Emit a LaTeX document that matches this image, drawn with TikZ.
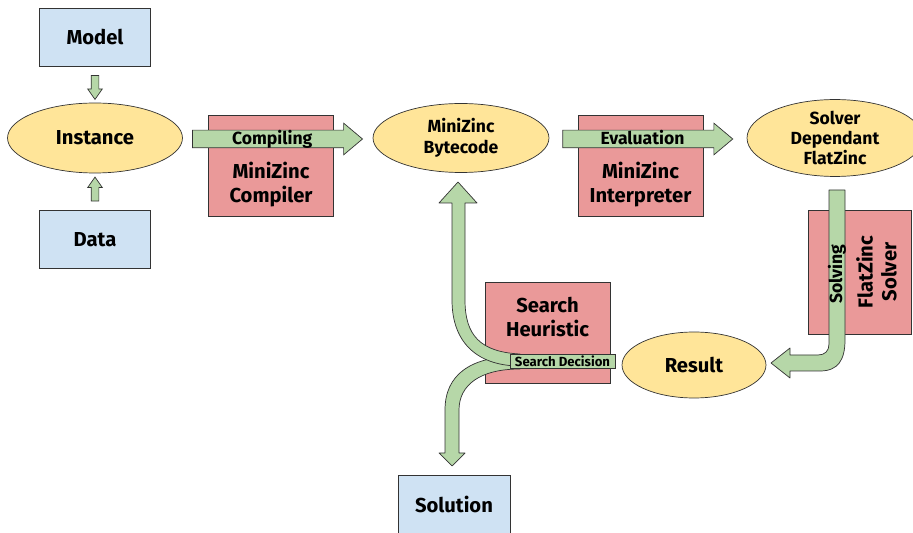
\documentclass[tikz,border=0pt]{standalone}
\usepackage{fontspec}
\setmainfont{Fira Sans}
\usetikzlibrary{positioning, shapes.geometric, shapes.arrows, calc}

\definecolor{inputblue}{HTML}{CFE2F3}
\definecolor{toolred}{HTML}{EA9999}
\definecolor{fileyellow}{HTML}{FFE599}
\definecolor{flowgreen}{HTML}{B6D7A8}

\begin{document}
\begin{tikzpicture}[
    x=0.02cm, y=-0.02cm,
    inputbox/.style={rectangle, draw=black!80, fill=inputblue, minimum width=2.22cm, minimum height=1.16cm, font=\bfseries\fontsize{11.5}{13.6}\selectfont},
    toolbox/.style={rectangle, draw=black!80, fill=toolred, minimum width=2.5cm, minimum height=2.02cm},
    tooltext/.style={align=center, inner sep=0pt, font=\bfseries\fontsize{11.5}{13.6}\selectfont},
    stage/.style={ellipse, draw=black!80, fill=fileyellow, inner sep=0pt, align=center, font=\bfseries\fontsize{11.5}{13.6}\selectfont},
    smalltext/.style={font=\bfseries\fontsize{10}{11.6}\selectfont},
    flow/.style={single arrow, draw=black!80, fill=flowgreen, single arrow head extend=0.14cm, single arrow tip angle=80,
        inner xsep=0pt, inner ysep=0.02cm, text height=0.26cm, text depth=0.04cm, font=\bfseries\fontsize{10}{12}\selectfont},
    tinyflow/.style={flow, inner ysep=0.07cm, text height=0pt, text depth=0pt, single arrow head extend=0.07cm, single arrow tip angle=70, minimum height=0.48cm},
    bentflow/.style={draw=black!80, fill=flowgreen, line join=round}
]
\useasboundingbox (0,0) rectangle (913,533);

% Stages of the model
\node[stage, minimum width=3.5cm, minimum height=1.4cm] (instance) at (95,138) {Instance};
\node[inputbox, above=0.72cm of instance] (model) {Model};
\node[inputbox, below=0.74cm of instance] (data) {Data};
\node[stage, smalltext, minimum width=3.52cm, minimum height=1.38cm] (bytecode) at (461,138) {MiniZinc\\Bytecode};
\node[stage, smalltext, minimum width=3.52cm, minimum height=1.42cm] (flatzinc) at (835,138) {Solver\\Dependant\\FlatZinc};
\node[stage, minimum width=2.88cm, minimum height=1.32cm] (result) at (694,365) {Result};
\node[inputbox, minimum width=2.24cm] (solution) at (454,504) {Solution};

% Tools
\node[toolbox] (compiler) at (271,165.5) {};
\node[tooltext, below=0.38cm of compiler.center, anchor=center] (compilertext) {MiniZinc\\Compiler};
\node[toolbox] (interpreter) at (640.5,165.5) {};
\node[tooltext, below=0.38cm of interpreter.center, anchor=center] (interpretertext) {MiniZinc\\Interpreter};
\node[toolbox] (heuristic) at (547.5,332.5) {};
\node[tooltext, above=0.31cm of heuristic.center, anchor=center] (heuristictext) {Search\\Heuristic};
\node[toolbox, minimum width=2.06cm, minimum height=2.48cm] (solver) at (859.5,272) {};
\node[tooltext, rotate=90, right=0.34cm of solver.center, anchor=center] (solvertext) {FlatZinc\\Solver};

% Straight arrows
\node[tinyflow, rotate=-90] (modelarrow) at ($(model.south)!0.5!(instance.north)$) {};
\node[tinyflow, rotate=90] (dataarrow) at ($(data.north)!0.5!(instance.south)$) {};
\node[flow, minimum height=3.4cm, xshift=-0.11cm, yshift=-0.02cm] (compiling) at ($(instance.east)!0.5!(bytecode.west)$) {Compiling};
\node[flow, minimum height=3.4cm, xshift=-0.11cm, yshift=-0.02cm] (evaluation) at ($(bytecode.east)!0.5!(flatzinc.west)$) {Evaluation};

% Solving, down and back to the result
\draw[bentflow] (829,190) -- (845,190) -- (845,340) .. controls (845,360) and (838,371) .. (820,371) -- (790,371) -- (790,378)
    -- (771,363) -- (790,348) -- (790,355) -- (818,355) .. controls (825,355) and (829,351) .. (829,344) -- cycle;
\node[smalltext, rotate=90, inner sep=0pt] (solving) at (837,274) {Solving};

% Search decisions, out to the solution and back to the bytecode
\draw[bentflow] (520,356) .. controls (470,356) and (445,375) .. (445,410) -- (445,453) -- (439,453) -- (452,466)
    -- (465,453) -- (459,453) -- (459,410) .. controls (459,385) and (480,369) .. (520,369) -- cycle;
\draw[bentflow] (520,354) .. controls (480,352) and (465,335) .. (465,300) -- (465,203) -- (477,203) -- (458,182)
    -- (439,203) -- (452,203) -- (452,300) .. controls (452,345) and (480,366) .. (520,366) -- cycle;
\node[rectangle, draw=black!80, fill=flowgreen, minimum width=2.1cm, minimum height=0.28cm, inner sep=0pt,
    font=\bfseries\fontsize{7.5}{9}\selectfont] (decision) at (562.5,361) {Search Decision};

\end{tikzpicture}
\end{document}
